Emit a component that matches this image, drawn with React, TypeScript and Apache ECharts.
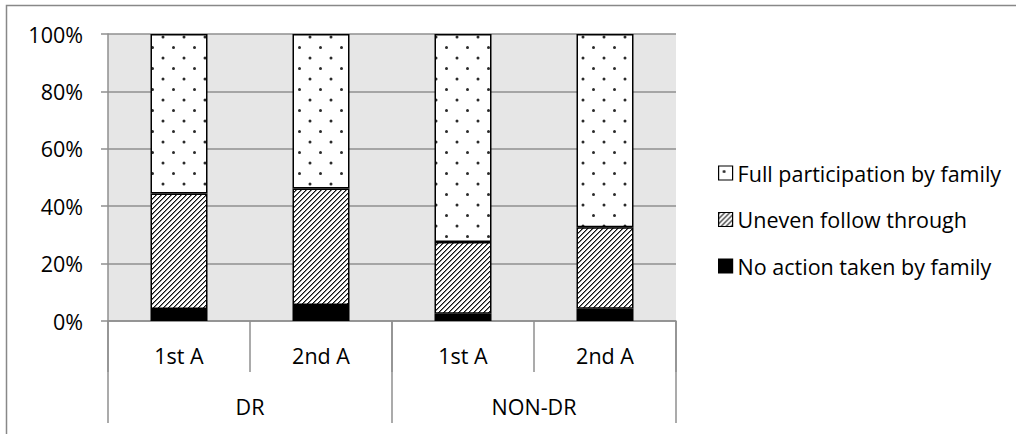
import React, { useEffect, useRef } from "react";
import * as echarts from "echarts";

const categories = ["1st A", "2nd A", "1st A", "2nd A"];
const groups = ["DR", "NON-DR"];
const yTicks = [0, 20, 40, 60, 80, 100];
const noAction = [4.2, 5.6, 2.5, 4.3];
const uneven = [40.2, 40.6, 25.0, 28.4];
const full = [55.6, 53.8, 72.5, 67.3];
const seriesNames = ["No action taken by family", "Uneven follow through", "Full participation by family"];

const FONT = "Open Sans";
const FS = 21.5;

function makeDots(): HTMLCanvasElement {
  const c = document.createElement("canvas");
  c.width = 21;
  c.height = 21;
  const ctx = c.getContext("2d")!;
  ctx.fillStyle = "#ffffff";
  ctx.fillRect(0, 0, 21, 21);
  ctx.fillStyle = "#2a2a2a";
  ctx.beginPath();
  ctx.arc(5.5, 5.5, 1.5, 0, Math.PI * 2);
  ctx.fill();
  ctx.beginPath();
  ctx.arc(16, 16, 1.5, 0, Math.PI * 2);
  ctx.fill();
  return c;
}

function makeHatch(): HTMLCanvasElement {
  const s = 5;
  const c = document.createElement("canvas");
  c.width = s;
  c.height = s;
  const ctx = c.getContext("2d")!;
  for (let x = 0; x < s; x++) {
    for (let y = 0; y < s; y++) {
      const k = (x + y) % s;
      ctx.fillStyle = k === 0 ? "#111111" : k === 1 ? "#808080" : "#ffffff";
      ctx.fillRect(x, y, 1, 1);
    }
  }
  return c;
}

export default function App() {
  const ref = useRef<HTMLDivElement>(null);
  useEffect(() => {
    if (!ref.current) return;
    const chart = echarts.init(ref.current, undefined, { renderer: "svg" });
    const dots = makeDots();
    const hatch = makeHatch();
    const border = { borderColor: "#000000", borderWidth: 1.5 };
    const option: any = {
      animation: false,
      textStyle: { fontFamily: FONT, color: "#000" },
      graphic: [
        {
          type: "rect",
          shape: { x: 6.5, y: 5.5, width: 1100, height: 500 },
          style: { fill: "none", stroke: "#888888", lineWidth: 1.5 },
          silent: true,
        },
      ],
      grid: {
        left: 108,
        top: 34,
        width: 568,
        height: 287,
        show: true,
        backgroundColor: "#e6e6e6",
        borderWidth: 0,
      },
      legend: {
        orient: "vertical",
        left: 718,
        top: 162,
        padding: 0,
        itemWidth: 14,
        itemHeight: 14,
        itemGap: 24.5,
        icon: "rect",
        data: [seriesNames[2], seriesNames[1], seriesNames[0]],
        textStyle: { fontFamily: FONT, fontSize: FS, lineHeight: 20, color: "#000" },
        itemStyle: { borderColor: "#000", borderWidth: 1.2 },
      },
      xAxis: [
        {
          type: "category",
          data: categories,
          position: "bottom",
          axisLine: { show: true, lineStyle: { color: "#8f8f8f", width: 1.5 } },
          axisTick: { show: true, interval: 0, length: 51, lineStyle: { color: "#8f8f8f", width: 1.5 } },
          axisLabel: { interval: 0, margin: 22, fontSize: FS, lineHeight: 24, fontFamily: FONT, color: "#000" },
        },
        {
          type: "category",
          data: groups,
          position: "bottom",
          offset: 0,
          axisLine: { show: false },
          axisTick: { show: true, interval: 0, length: 102, lineStyle: { color: "#8f8f8f", width: 1.5 } },
          axisLabel: { interval: 0, margin: 73, fontSize: FS, lineHeight: 24, fontFamily: FONT, color: "#000" },
        },
      ],
      yAxis: {
        type: "value",
        min: yTicks[0],
        max: yTicks[yTicks.length - 1],
        interval: 20,
        axisLine: { show: true, lineStyle: { color: "#8f8f8f", width: 1.5 } },
        axisTick: { show: true, inside: false, length: 7, lineStyle: { color: "#8f8f8f", width: 1.5 } },
        axisLabel: { formatter: "{value}%", margin: 25, fontSize: FS, fontFamily: FONT, color: "#000" },
        splitLine: { show: true, lineStyle: { color: "#8f8f8f", width: 1.5 } },
      },
      series: [
        {
          name: seriesNames[0],
          type: "bar",
          stack: "total",
          xAxisIndex: 0,
          barWidth: 57,
          data: noAction,
          itemStyle: { color: "#000000", ...border },
        },
        {
          name: seriesNames[1],
          type: "bar",
          stack: "total",
          xAxisIndex: 0,
          barWidth: 57,
          data: uneven,
          itemStyle: {
            color: { image: hatch, repeat: "repeat", imageWidth: 5, imageHeight: 5 },
            ...border,
          },
        },
        {
          name: seriesNames[2],
          type: "bar",
          stack: "total",
          xAxisIndex: 0,
          barWidth: 57,
          data: full,
          itemStyle: {
            color: { image: dots, repeat: "repeat", imageWidth: 21, imageHeight: 21 },
            ...border,
          },
        },
      ],
    };
    chart.setOption(option);
    return () => chart.dispose();
  }, []);
  return (
    <div
      ref={ref}
      style={{ position: "fixed", left: 0, top: 0, width: 1016, height: 434, background: "#fff" }}
    />
  );
}
